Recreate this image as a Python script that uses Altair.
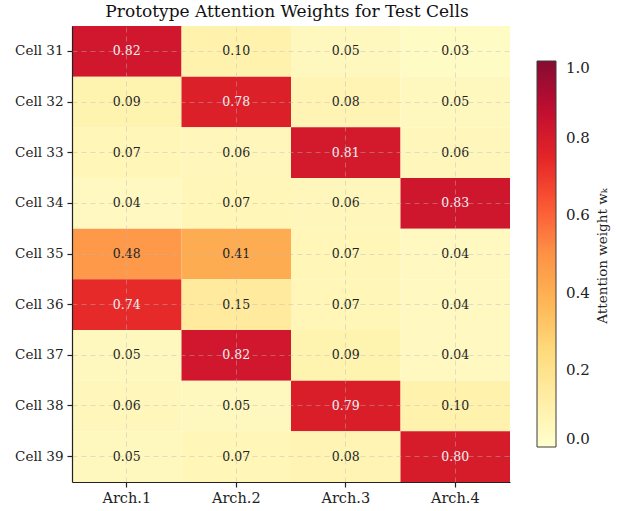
import altair as alt
import pandas as pd

cells = ["Cell 31", "Cell 32", "Cell 33", "Cell 34", "Cell 35", "Cell 36", "Cell 37", "Cell 38", "Cell 39"]
archs = ["Arch.1", "Arch.2", "Arch.3", "Arch.4"]
arch1 = [0.82, 0.09, 0.07, 0.04, 0.48, 0.74, 0.05, 0.06, 0.05]
arch2 = [0.10, 0.78, 0.06, 0.07, 0.41, 0.15, 0.82, 0.05, 0.07]
arch3 = [0.05, 0.08, 0.81, 0.06, 0.07, 0.07, 0.09, 0.79, 0.08]
arch4 = [0.03, 0.05, 0.06, 0.83, 0.04, 0.04, 0.04, 0.10, 0.80]
legend_ticks = [0.0, 0.2, 0.4, 0.6, 0.8, 1.0]
colorbar_label = "Attention weight wₖ"

# YlOrRd colormap stops
cmap_stops = [0.0, 0.125, 0.25, 0.375, 0.5, 0.625, 0.75, 0.875, 1.0]
cmap_colors = ["#ffffcc", "#ffeda0", "#fed976", "#feb24c", "#fd8d3c",
               "#fc4e2a", "#e31a1c", "#bd0026", "#800026"]

rows = []
for a, col in zip(archs, [arch1, arch2, arch3, arch4]):
    for c, v in zip(cells, col):
        rows.append({"cell": c, "arch": a, "w": v})
df = pd.DataFrame(rows)

FONT = "DejaVu Serif"

base = alt.Chart(df).encode(
    x=alt.X("arch:N", sort=archs, title=None,
            scale=alt.Scale(paddingInner=0, paddingOuter=0),
            axis=alt.Axis(labelAngle=0, bandPosition=0.5, zindex=1, labelFontSize=14.5)),
    y=alt.Y("cell:N", sort=cells, title=None,
            scale=alt.Scale(paddingInner=0, paddingOuter=0),
            axis=alt.Axis(bandPosition=0.5, zindex=1, labelFontSize=13.5)),
)

heat = base.mark_rect(opacity=0.95).encode(
    color=alt.Color("w:Q",
                    scale=alt.Scale(domain=cmap_stops, range=cmap_colors, interpolate="rgb"),
                    legend=alt.Legend(
                        title=None,
                        orient="none", legendX=465, legendY=35,
                        direction="vertical",
                        gradientLength=386, gradientThickness=19,
                        gradientStrokeColor="#333", gradientStrokeWidth=1,
                        gradientOpacity=0.95,
                        values=legend_ticks, format=".1f",
                        labelOverlap=False, labelBaseline="middle",
                        labelFont=FONT, labelFontSize=15, labelColor="#222",
                        labelOffset=10,
                    )),
)

text = base.mark_text(font=FONT, fontSize=12.5).encode(
    text=alt.Text("w:Q", format=".2f"),
    color=alt.condition(alt.datum.w > 0.6, alt.value("#f2f2f2"), alt.value("#222222")),
)

cb_title = alt.Chart(pd.DataFrame({"t": [colorbar_label]})).mark_text(
    font=FONT, fontSize=13.5, angle=270, color="#222", baseline="middle", align="center"
).encode(
    text="t:N", x=alt.value(531), y=alt.value(230)
)

chart = (heat + text + cb_title).properties(
    width=438, height=456,
    title=alt.Title("Prototype Attention Weights for Test Cells",
                    font=FONT, fontSize=17, fontWeight="normal",
                    color="#111", anchor="middle", offset=5, dx=-4),
    padding={"left": 72, "top": 26, "right": 110, "bottom": 29},
    autosize=alt.AutoSizeParams(type="none"),
).configure_view(
    stroke=None
).configure_axis(
    labelFont=FONT, labelColor="#222",
    domainColor="#222", domainWidth=1.2,
    tickColor="#222", tickSize=5, tickWidth=1.2,
    labelPadding=4,
    grid=True, gridColor="#bbbbbb", gridOpacity=0.55, gridDash=[5, 4], gridWidth=0.8,
)

chart.save("out.html", embed_options={"renderer": "svg", "actions": False})
